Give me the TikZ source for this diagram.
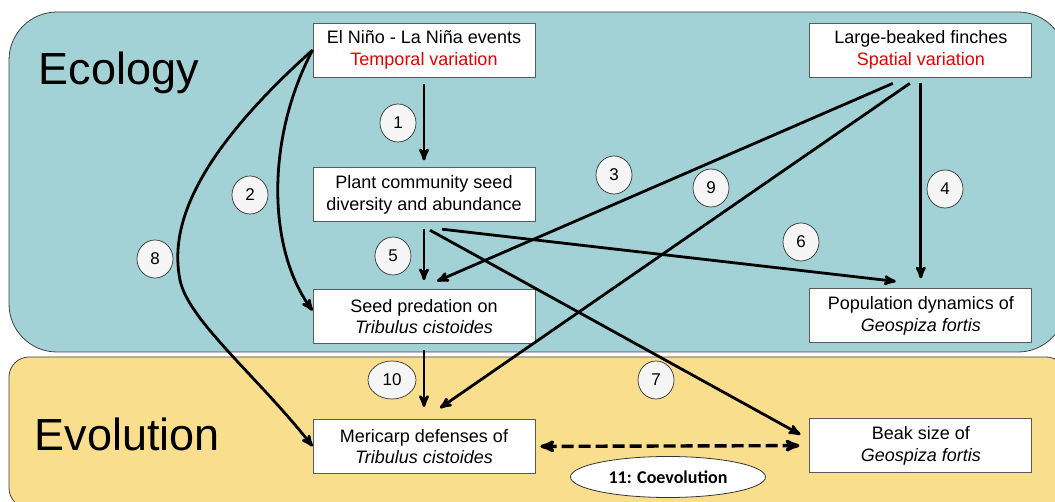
\documentclass[tikz,border=0pt]{standalone}
\usepackage{fontspec}
\setmainfont{Liberation Sans}
\newfontfamily\coevofont{Carlito}
\usepackage{tikz}
\usetikzlibrary{arrows,positioning,shapes.geometric}
\definecolor{ecoteal}{RGB}{163,210,214}
\definecolor{evoyellow}{RGB}{249,222,142}
\definecolor{varred}{RGB}{230,0,0}
\definecolor{boxgray}{RGB}{90,90,90}

\begin{document}
\begin{tikzpicture}[->,>=stealth',x=1pt,y=-1pt,line width=2.8pt,
                    box/.style={draw=boxgray,line width=0.8pt,fill=white,minimum width=222pt,
                                minimum height=54pt,align=center,inner sep=2pt,
                                font=\fontsize{18}{21.5}\selectfont},
                    num/.style={ellipse,draw=black!80,line width=0.7pt,fill=black!4,
                                minimum width=36pt,minimum height=38pt,inner sep=0pt,
                                font=\fontsize{17}{20}\selectfont},
                    panel/.style={-,draw=black!75,line width=0.8pt}]
                \useasboundingbox (0,0) rectangle (1055,502);
                % the two panels
                \draw[panel,fill=ecoteal,rounded corners=48pt] (9,12) rectangle (1066,352);
                \draw[panel,fill=evoyellow,rounded corners=20pt] (9,357) rectangle (1066,508);
                \node[anchor=base west,font=\fontsize{45}{50}\selectfont] (ecology) at (34,85) {Ecology};
                \node[anchor=base west,font=\fontsize{45}{50}\selectfont] (evolution) at (30,450) {Evolution};

                % boxes
                \node [box] (elnino)               at (424,50) {El Ni\~no - La Ni\~na events\\\textcolor{varred}{Temporal variation}};
                \node [box] (finches)   [right=274pt of elnino]  {Large-beaked finches\\\textcolor{varred}{Spatial variation}};
                \node [box] (plant)     [below=90pt of elnino]   {Plant community seed\\diversity and abundance};
                \node [box] (predation) [below=67pt of plant]    {Seed predation on\\\textit{Tribulus cistoides}};
                \node [box] (mericarp)  [below=75pt of predation] {Mericarp defenses of\\\textit{Tribulus cistoides}};
                \node [box] (popdyn)    [below=211pt of finches] {Population dynamics of\\\textit{Geospiza fortis}};
                \node [box] (beak)      [below=75pt of popdyn]   {Beak size of\\\textit{Geospiza fortis}};

                % links
                \path   ([yshift=-7pt]elnino.south) edge ([yshift=7pt]plant.north)
                        ([xshift=-28pt,yshift=-6pt]finches.south) edge ([xshift=13pt,yshift=8pt]predation.north)
                        ([yshift=-6pt]finches.south) edge ([yshift=10pt]popdyn.north)
                        ([yshift=-7pt]plant.south) edge ([yshift=9pt]predation.north)
                        ([xshift=18pt,yshift=-7pt]plant.south) edge ([xshift=-25pt,yshift=7pt]popdyn.north)
                        ([xshift=6pt,yshift=-8pt]plant.south) edge ([xshift=-9pt,yshift=11pt]beak.west)
                        ([xshift=-11pt,yshift=-6pt]finches.south) edge ([xshift=16pt,yshift=11pt]mericarp.north)
                        ([yshift=-6pt]predation.south) edge ([yshift=12pt]mericarp.north);
                \draw (elnino.west) .. controls (265,140) and (268,250) .. ([yshift=6pt]predation.west);
                \draw (elnino.west) .. controls (190,160) and (170,230) .. (180,280)
                                    .. controls (188,320) and (258,377) .. (mericarp.west);
                \draw[<->,line width=3.4pt,dash pattern=on 12pt off 5pt]
                        ([xshift=5pt]mericarp.east) -- ([xshift=-10pt]beak.west);

                % numbers
                \node [num] (n1) at (398,123) {1};
                \node [num] (n2) at (250,195) {2};
                \node [num] (n3) at (614,175) {3};
                \node [num] (n4) at (945,189) {4};
                \node [num] (n5) at (393,256) {5};
                \node [num] (n6) at (801,242) {6};
                \node [num] (n7) at (656,380) {7};
                \node [num] (n8) at (155,259) {8};
                \node [num] (n9) at (711,188) {9};
                \node [num,minimum width=48pt] (n10) at (392,380) {10};
                \node [ellipse,draw=black!80,line width=0.8pt,fill=white,minimum width=195pt,
                       minimum height=41pt,inner sep=0pt,font=\coevofont\bfseries\fontsize{18}{20}\selectfont]
                       (coevo) at (668,477) {11: Coevolution};
            \end{tikzpicture}
\end{document}
